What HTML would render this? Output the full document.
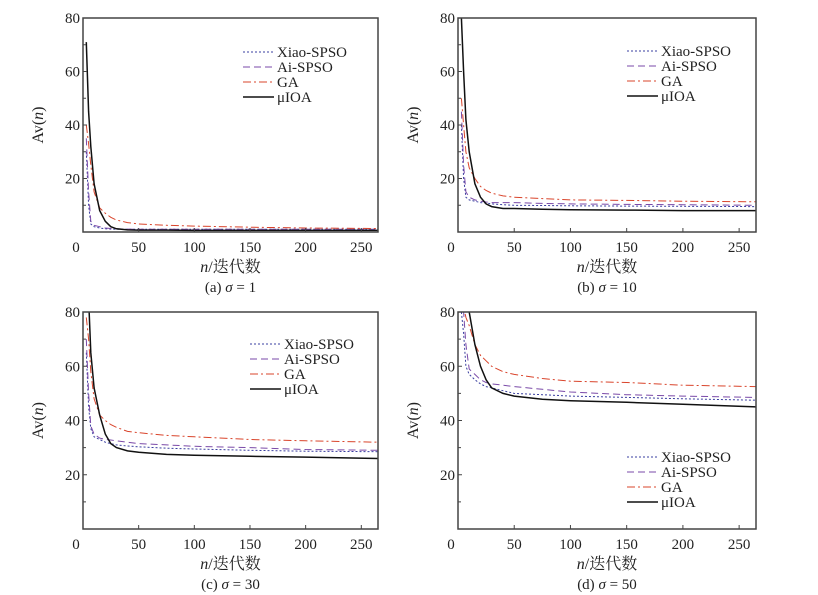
<!DOCTYPE html>
<html><head><meta charset="utf-8">
<style>
html,body{margin:0;padding:0;background:#fff;}
svg{display:block;font-family:"Liberation Serif","Noto Serif CJK SC","Noto Sans CJK SC",serif;}
</style></head>
<body>
<svg id="chart" width="818" height="595" viewBox="0 0 818 595"></svg>
<script>
// x iterations sampled
const xsA = [3,5,7,10,15,20,25,30,40,50,75,100,150,200,265];
// panel (a) sigma=1
const aXiao = [30,10,3,2,1.5,1.2,1.1,1,1,1,1,1,1,1,1];
const aAi   = [35,15,4,2.5,2,1.5,1.3,1.2,1.1,1,1,1,1,1,1];
const aGA   = [40,33,25,15,9,7,5.5,4.5,3.5,3,2.5,2.2,1.8,1.5,1.3];
const aMu   = [71,45,32,18,8,4,2,1.2,0.8,0.7,0.7,0.6,0.6,0.6,0.6];
// panel (b) sigma=10
const bXiao = [40,20,13,12,11.5,11,10.8,10.5,10.2,10,9.9,9.8,9.7,9.6,9.5];
const bAi   = [45,25,15,13,12,11.5,11.2,11,11,11,10.7,10.5,10.3,10.2,10];
const bGA   = [50,40,30,24,20,17,15.5,14.5,13.5,13,12.5,12,11.8,11.5,11.3];
const bMu   = [80,60,42,30,18,13,10.5,9.5,8.8,8.8,8.5,8.3,8.2,8,8];
// panel (c) sigma=30
const cXiao = [65,45,37,34,33,32,31.5,31,30.6,30.3,29.8,29.5,29,28.7,28.5];
const cAi   = [70,50,38,35,33.5,33,32.8,32.5,32,31.5,31,30.5,30,29.3,29];
const cGA   = [78,70,58,48,42,40,38.5,37.5,36,35.5,34.5,34,33,32.5,32];
const cMu   = [90,85,65,52,42,35,31.5,30,28.8,28.3,27.5,27.2,26.8,26.5,26];
// panel (d) sigma=50
const dXiao = [80,72,60,57,55,53.5,52.5,52,51,50,49.5,49,48.5,48,47.5];
const dAi   = [80,80,68,59,57,55,54,53.5,53,52.5,51.5,50.5,49.5,49,48.5];
const dGA   = [85,82,78,75,68,64,62,60,58,57,55.5,54.5,54,53,52.5];
const dMu   = [90,88,86,80,68,60,55,52,50,49,47.8,47.3,46.7,46,45];

const xTicks = [0,50,100,150,200,250];
const yTicks = [20,40,60,80];
const yMinor = [10,30,50,70];
const seriesNames = ["Xiao-SPSO","Ai-SPSO","GA","μIOA"];
const captions = ["(a) σ = 1","(b) σ = 10","(c) σ = 30","(d) σ = 50"];

const NS="http://www.w3.org/2000/svg";
const svg=document.getElementById('chart');
function mk(tag,attrs,parent){const e=document.createElementNS(NS,tag);for(const k in attrs)e.setAttribute(k,attrs[k]);(parent||svg).appendChild(e);return e;}

const styles=[
 {stroke:"#3a3fa0",dash:"2,2",w:1},
 {stroke:"#7a4aa8",dash:"7,4",w:1},
 {stroke:"#d9442b",dash:"8,3,2,3",w:1},
 {stroke:"#111",dash:"",w:1.5}
];

const panels=[
 {L:83,R:378,T:18,B:232,data:[aXiao,aAi,aGA,aMu],leg:{x:243,y:52},yl:43,cap:0},
 {L:458,R:756,T:18,B:232,data:[bXiao,bAi,bGA,bMu],leg:{x:627,y:51},yl:418,cap:1},
 {L:83,R:378,T:312,B:529,data:[cXiao,cAi,cGA,cMu],leg:{x:250,y:344},yl:43,cap:2},
 {L:458,R:756,T:312,B:529,data:[dXiao,dAi,dGA,dMu],leg:{x:627,y:457},yl:418,cap:3}
];

panels.forEach((p,pi)=>{
  const g=mk('g',{});
  
  
  const xs=v=>p.L+(v/265)*(p.R-p.L);
  const ys=v=>p.B-(v/80)*(p.B-p.T);
  const cid='clip'+pi;
  const cp=mk('clipPath',{id:cid},g);
  mk('rect',{x:p.L,y:p.T,width:p.R-p.L,height:p.B-p.T},cp);
  p.data.forEach((arr,si)=>{
    const d=arr.map((v,i)=>(i?'L':'M')+xs(xsA[i]).toFixed(1)+','+ys(v).toFixed(1)).join(' ');
    const st=styles[si];
    const path=mk('path',{d:d,fill:'none',stroke:st.stroke,'stroke-width':st.w,'stroke-dasharray':st.dash,'clip-path':'url(#'+cid+')'},g);
    
    
  });
  const fr=mk('rect',{x:p.L,y:p.T,width:p.R-p.L,height:p.B-p.T,fill:'none',stroke:'#444','stroke-width':1.5},g);
  
  
  xTicks.forEach(t=>{
    const x=xs(t);
    if(t>0) mk('line',{x1:x,x2:x,y1:p.B,y2:p.B-4,stroke:'#444','stroke-width':1},g);
    const tx=mk('text',{x:t===0?x-7:x,y:p.B+20,'font-size':15,'text-anchor':'middle',fill:'#222'},g);
    tx.textContent=t;
    
    
  });
  yTicks.forEach(t=>{
    const y=ys(t);
    if(t<80) mk('line',{x1:p.L,x2:p.L+4,y1:y,y2:y,stroke:'#444','stroke-width':1},g);
    const tx=mk('text',{x:p.L-3,y:y+5,'font-size':15,'text-anchor':'end',fill:'#222'},g);
    tx.textContent=t;
    
    
  });
  yMinor.forEach(t=>{const y=ys(t);mk('line',{x1:p.L,x2:p.L+3,y1:y,y2:y,stroke:'#444','stroke-width':1},g);});
  const yl=mk('text',{x:p.yl,y:(p.T+p.B)/2,'font-size':16,'text-anchor':'middle',fill:'#222',transform:'rotate(-90 '+p.yl+' '+((p.T+p.B)/2)+')'},g);
  yl.innerHTML='Av(<tspan font-style="italic">n</tspan>)';
  
  
  const cx=(p.L+p.R)/2;
  const xl=mk('text',{x:cx,y:p.B+40,'font-size':16,'text-anchor':'middle',fill:'#222'},g);
  xl.innerHTML='<tspan font-style="italic">n</tspan>/迭代数';
  
  
  const cap=mk('text',{x:cx,y:p.B+60,'font-size':15,'text-anchor':'middle',fill:'#222'},g);
  cap.innerHTML=captions[p.cap].replace('σ','<tspan font-style="italic">σ</tspan>');
  
  
  const lg=mk('g',{},g);
  
  
  seriesNames.forEach((n,si)=>{
    const y=p.leg.y+si*15;
    const st=styles[si];
    mk('line',{x1:p.leg.x,x2:p.leg.x+31,y1:y,y2:y,stroke:st.stroke,'stroke-width':st.w,'stroke-dasharray':st.dash},lg);
    const t=mk('text',{x:p.leg.x+34,y:y+5,'font-size':15,fill:'#222'},lg);
    t.textContent=n;
    
    
  });
});
</script>
</body></html>
